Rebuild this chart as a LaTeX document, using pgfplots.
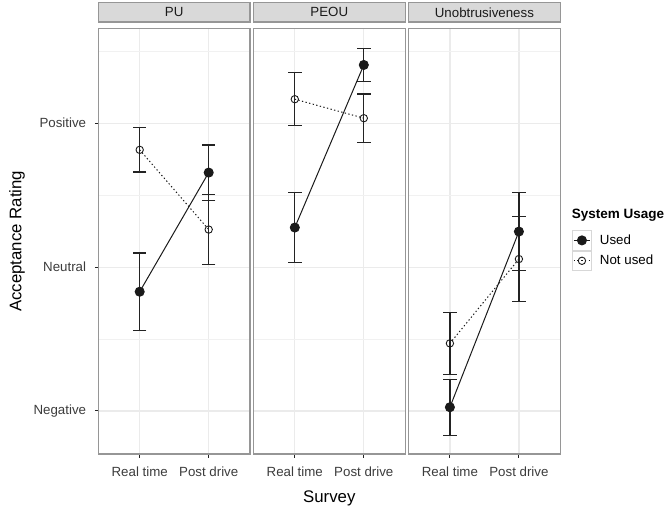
\documentclass[border=0pt]{standalone}
\usepackage{pgfplots}
\pgfplotsset{compat=1.18}
\usepackage{fontspec}
\setmainfont{Liberation Sans}
\definecolor{bordercol}{RGB}{150,150,150}
\definecolor{stripcol}{RGB}{217,217,217}
\definecolor{gridcol}{RGB}{235,235,235}
\definecolor{ticklab}{RGB}{60,60,60}
\definecolor{ptcol}{RGB}{26,26,26}
\definecolor{ebcol}{RGB}{35,35,35}
\definecolor{legbox}{RGB}{215,215,215}
\newcommand{\ticksize}{\fontsize{13.3}{15}\selectfont}
\newcommand{\titlesize}{\fontsize{16.8}{19}\selectfont}
\pgfplotsset{
  panel/.style={
    scale only axis, width=151.8pt, height=425.3pt,
    xmin=0.4, xmax=2.6, ymin=0.701, ymax=3.657,
    xtick={1,2}, xticklabels={Real time, Post drive},
    ytick={1,2,3}, minor ytick={1.5,2.5,3.5},
    yticklabels={Negative, Neutral, Positive},
    grid=both,
    major grid style={gridcol, line width=1.2pt},
    minor grid style={gridcol!70!white, line width=0.6pt},
    axis line style={bordercol, line width=1.4pt},
    tick align=outside, xtick pos=lower, ytick pos=left,
    major tick length=3.5pt, minor tick length=0pt,
    tick style={ebcol, line width=1pt},
    tick label style={font=\ticksize, text=ticklab, inner sep=0pt},
    xticklabel style={anchor=north, yshift=-9pt},
    yticklabel style={anchor=east, xshift=-8.5pt},
    title style={at={(axis description cs:0.5,1)}, anchor=south,
      minimum width=151.8pt, minimum height=19.2pt, inner sep=0pt,
      fill=stripcol, draw=bordercol, line width=1.4pt,
      font=\ticksize, text=ptcol, yshift=0pt},
    clip=false,
    legend image code/.code={
      \draw[draw=legbox, line width=0.8pt, solid, fill=white] (0pt,-9.8pt) rectangle (19.3pt,9.8pt);
      \draw[mark repeat=2, mark phase=2, ##1] plot coordinates {(1.5pt,0pt) (9.65pt,0pt) (17.8pt,0pt)};
    },
  },
  used/.style={ptcol, line width=1.0pt, mark=*, mark size=4.5pt,
    mark options={solid, fill=ptcol},
    error bars/.cd, y dir=both, y explicit,
    error bar style={solid, ebcol, line width=1.3pt},
    error mark options={solid, ebcol, line width=1.3pt, mark size=6.7pt, rotate=90}},
  notused/.style={ptcol, line width=1.0pt, dash pattern=on 1.3pt off 2.4pt,
    mark=o, mark size=3.7pt, mark options={solid, line width=0.9pt},
    error bars/.cd, y dir=both, y explicit,
    error bar style={solid, ebcol, line width=1.3pt},
    error mark options={solid, ebcol, line width=1.3pt, mark size=6.7pt, rotate=90}},
}
\begin{document}
\begin{tikzpicture}
\useasboundingbox (0,0) rectangle (666pt,507pt);
% Panel 1: PU
\begin{axis}[panel, at={(98.3pt,53pt)}, anchor=south west, title={PU},
  ylabel={Acceptance Rating},
  ylabel style={at={(axis description cs:-0.5356,0.5)}, anchor=center, font=\titlesize, text=black}]
\addplot+[used] coordinates {(1,1.829) +- (0,0.268) (2,2.657) +- (0,0.192)};
\addplot+[notused] coordinates {(1,2.815) +- (0,0.155) (2,2.261) +- (0,0.245)};
\end{axis}
% Panel 2: PEOU
\begin{axis}[panel, at={(253.4pt,53pt)}, anchor=south west, title={PEOU},
  yticklabels={}, ytick style={draw=none},
  xlabel={Survey},
  xlabel style={at={(axis description cs:0.5,-0.1035)}, anchor=center, font=\titlesize, text=black}]
\addplot+[used] coordinates {(1,2.275) +- (0,0.242) (2,3.405) +- (0,0.116)};
\addplot+[notused] coordinates {(1,3.167) +- (0,0.184) (2,3.035) +- (0,0.169)};
\end{axis}
% Panel 3: Unobtrusiveness
\begin{axis}[panel, at={(408.5pt,53pt)}, anchor=south west, title={Unobtrusiveness},
  yticklabels={}, ytick style={draw=none},
  legend style={at={(axis description cs:1.075,0.5267)}, anchor=north west,
    draw=none, fill=none, inner sep=0pt, row sep=0pt, column sep=8pt,
    font=\ticksize, cells={anchor=west}, nodes={inner sep=0pt}}]
\addplot+[used] coordinates {(1,1.026) +- (0,0.194) (2,2.247) +- (0,0.272)};
\addlegendentry{Used}
\addplot+[notused] coordinates {(1,1.470) +- (0,0.214) (2,2.056) +- (0,0.297)};
\addlegendentry{Not used}
\end{axis}
\node[anchor=base west, font=\bfseries\fontsize{13.5}{16}\selectfont, inner sep=0pt] at (571.7pt,289pt) {System Usage};
\end{tikzpicture}
\end{document}
